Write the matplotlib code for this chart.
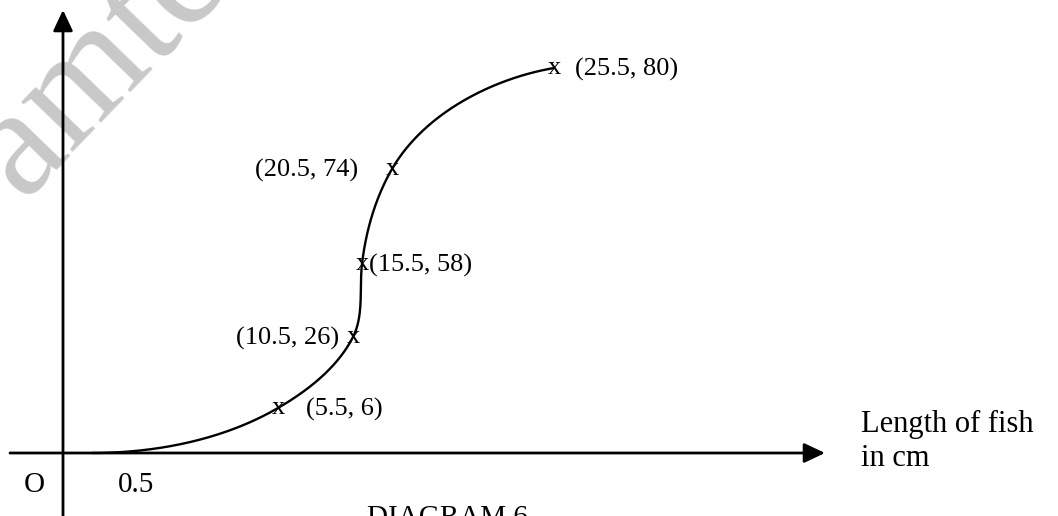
import numpy as np
import matplotlib
matplotlib.use("Agg")
import matplotlib.pyplot as plt

plt.rcParams["font.family"] = ["Liberation Serif", "DejaVu Serif"]

# Cumulative frequency of fish lengths (upper class boundary, cumulative frequency)
lengths = [0.5, 5.5, 10.5, 15.5, 20.5, 25.5]
cum_freq = [0, 6, 26, 58, 74, 80]

# The sketch is not drawn to scale: each axis is a piecewise-linear
# ruler whose break points sit at these canvas positions (pixels).
x_break_values = [0, 0.5, 5.5, 10.5, 15.5, 20.5, 25.5]
x_break_px = [63, 92, 278, 353, 362, 392, 554]
y_break_values = [0, 6, 26, 58, 74, 80]
y_break_px = [63, 108, 179, 252, 347, 448]

# Direction of the freehand curve as it passes each point (on the canvas)
curve_dirs = [(1.0, 0.0), (0.86, 0.5), (0.45, 0.89),
              (0.115, 0.99), (0.5, 0.866), (0.985, 0.17)]

# Label placement: horizontal offset (px) from the point and alignment
label_place = [None, (28, "left"), (-14, "right"), (7, "left"),
               (-34, "right"), (21, "left")]

W, H = 1058, 516


def ruler(src, dst):
    src = np.asarray(src, float)
    dst = np.asarray(dst, float)
    lo = (dst[1] - dst[0]) / (src[1] - src[0])
    hi = (dst[-1] - dst[-2]) / (src[-1] - src[-2])

    def f(v):
        v = np.asarray(v, float)
        out = np.interp(v, src, dst)
        out = np.where(v < src[0], dst[0] + (v - src[0]) * lo, out)
        out = np.where(v > src[-1], dst[-1] + (v - src[-1]) * hi, out)
        return out
    return f


fx, fx_inv = ruler(x_break_values, x_break_px), ruler(x_break_px, x_break_values)
fy, fy_inv = ruler(y_break_values, y_break_px), ruler(y_break_px, y_break_values)

fig = plt.figure(figsize=(W / 100, H / 100), dpi=100)
ax = fig.add_axes([0, 0, 1, 1])
ax.set_xscale("function", functions=(fx, fx_inv))
ax.set_yscale("function", functions=(fy, fy_inv))
ax.set_xlim(float(fx_inv(0)), float(fx_inv(W)))
ax.set_ylim(float(fy_inv(0)), float(fy_inv(H)))
ax.axis("off")

# Watermark
ax.text(22 / W, 1 - 200 / H, "amte", transform=ax.transAxes, rotation=46,
        rotation_mode="anchor", ha="left", va="baseline", fontsize=112,
        color="#c8c8c8", zorder=0)

# Axes with arrow heads
arrow_style = dict(arrowstyle="-|>,head_length=12.7,head_width=6.0",
                   mutation_scale=1, lw=2.0, color="black",
                   shrinkA=0, shrinkB=0)
ax.annotate("", xy=(825 / W, 0), xycoords=("axes fraction", "data"),
            xytext=(10 / W, 0), textcoords=("axes fraction", "data"),
            arrowprops=arrow_style, zorder=3)
ax.annotate("", xy=(0, 1 - 10 / H), xycoords=("data", "axes fraction"),
            xytext=(0, 0), textcoords=("data", "axes fraction"),
            arrowprops=arrow_style, zorder=3)

# Smooth ogive through the points (Hermite segments built on the canvas)
px = fx(lengths)
py = fy(cum_freq)
t = np.linspace(0, 1, 80)
h00 = 2 * t**3 - 3 * t**2 + 1
h10 = t**3 - 2 * t**2 + t
h01 = -2 * t**3 + 3 * t**2
h11 = t**3 - t**2
cx, cy = [], []
for i in range(len(lengths) - 1):
    L = np.hypot(px[i + 1] - px[i], py[i + 1] - py[i])
    d0, d1 = curve_dirs[i], curve_dirs[i + 1]
    cx.append(h00 * px[i] + h10 * d0[0] * L + h01 * px[i + 1] + h11 * d1[0] * L)
    cy.append(h00 * py[i] + h10 * d0[1] * L + h01 * py[i + 1] + h11 * d1[1] * L)
cx = np.concatenate(cx)
cy = np.concatenate(cy)
ax.plot(fx_inv(cx), fy_inv(cy), color="black", lw=1.7, zorder=2,
        solid_capstyle="butt")

# Point markers and coordinate labels
for (x, y), place in zip(zip(lengths, cum_freq), label_place):
    if place is None:
        continue
    ax.annotate("x", xy=(x, y), xytext=(0, -6), textcoords="offset pixels",
                ha="center", va="baseline", fontsize=19, zorder=4)
    dx, ha = place
    ax.annotate(f"({x}, {y})", xy=(x, y), xytext=(dx, -8),
                textcoords="offset pixels", ha=ha, va="baseline",
                fontsize=19, zorder=4)

# Origin and first class boundary
ax.annotate("O", xy=(0, 0), xytext=(-18, -39), textcoords="offset pixels",
            ha="right", va="baseline", fontsize=21)
ax.annotate(f"{lengths[0]}", xy=(lengths[0], 0), xytext=(26, -39),
            textcoords="offset pixels", ha="left", va="baseline", fontsize=21)

# Axis title
ax.annotate("Length of fish", xy=(861 / W, 0),
            xycoords=("axes fraction", "data"), xytext=(0, 21),
            textcoords="offset pixels", ha="left", va="baseline", fontsize=22)
ax.annotate("in cm", xy=(861 / W, 0),
            xycoords=("axes fraction", "data"), xytext=(0, -13),
            textcoords="offset pixels", ha="left", va="baseline", fontsize=22)

# Caption
ax.text(367 / W, -9 / H, "DIAGRAM 6", transform=ax.transAxes,
        ha="left", va="baseline", fontsize=21)

fig.savefig("out.png", dpi=100)
